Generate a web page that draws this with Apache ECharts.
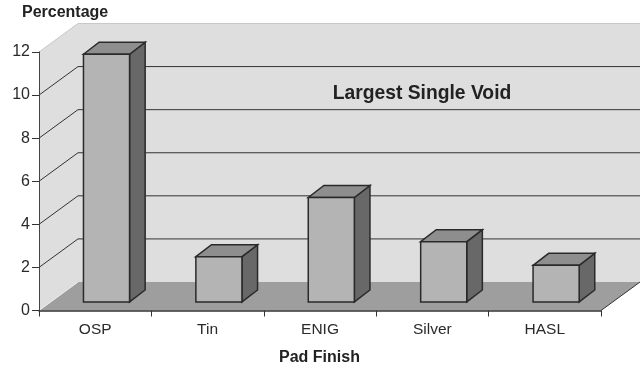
<!DOCTYPE html>
<html><head><meta charset="utf-8">
<style>html,body{margin:0;padding:0;background:#fff}#c{width:642px;height:366px}</style>
<script src="https://cdn.jsdelivr.net/npm/echarts@6/dist/echarts.min.js"></script>
</head><body><div id="c"></div>
<script>
const categories = ['OSP','Tin','ENIG','Silver','HASL'];
const values = [11.5,2.1,4.85,2.8,1.7];
const wallTicks = [2,4,6,8,10];
const yMax = 12, yStep = 2;
const DX = 39, DY = 28.5, FONT = '"Liberation Sans", Arial, sans-serif';
const chart = echarts.init(document.getElementById('c'), null, {renderer:'canvas'});
chart.setOption({
  animation:false,
  backgroundColor:'#fff',
  title:[
    {text:'Largest Single Void',left:422,top:84,padding:0,textAlign:'center',textStyle:{fontFamily:FONT,fontSize:19.3,fontWeight:'bold',color:'#222'}},
    {text:'Percentage',left:22,top:5,padding:0,textStyle:{fontFamily:FONT,fontSize:16,fontWeight:'bold',color:'#222'}},
    {text:'Pad Finish',left:319.5,top:350,padding:0,textAlign:'center',textStyle:{fontFamily:FONT,fontSize:16,fontWeight:'bold',color:'#222'}}
  ],
  grid:{left:39,right:41,top:52,bottom:55.5},
  xAxis:{type:'category',data:categories,z:5,
    axisLine:{lineStyle:{color:'#333',width:1.5}},
    axisTick:{show:true,length:6,lineStyle:{color:'#333',width:1}},
    axisLabel:{fontFamily:FONT,fontSize:15.5,color:'#2a2a2a',margin:11},splitLine:{show:false}},
  yAxis:{type:'value',min:0,max:yMax,interval:yStep,z:5,
    axisLine:{show:true,lineStyle:{color:'#444',width:1}},
    axisTick:{show:true,length:7,lineStyle:{color:'#333',width:1}},
    axisLabel:{fontFamily:FONT,fontSize:16,color:'#2a2a2a',margin:9,padding:[2,0,0,0]},splitLine:{show:false}},
  series:[
    {type:'custom',silent:true,z:1,data:[[0]],clip:false,
     renderItem(p){
       const c=p.coordSys,x0=c.x,x1=c.x+c.width,t=c.y,b=c.y+c.height;
       return {type:'group',children:[
         {type:'polygon',shape:{points:[[x0,t],[x0+DX,t-DY],[x1+DX,t-DY],[x1+DX,b-DY],[x0+DX,b-DY],[x0,b]]},style:{fill:'#dedede'}},
         {type:'polyline',shape:{points:[[x0,t],[x0+DX,t-DY],[x1+DX,t-DY]]},style:{fill:'none',stroke:'#c8c8c8',lineWidth:1}},
         {type:'polygon',shape:{points:[[x0,b],[x0+DX,b-DY],[x1+DX,b-DY],[x1,b]]},style:{fill:'#9e9e9e'}},
         {type:'line',shape:{x1:x1,y1:b,x2:x1+DX,y2:b-DY},style:{stroke:'#333',lineWidth:1}},
         {type:'line',shape:{x1:x0,y1:b,x2:x0+DX,y2:b-DY},style:{stroke:'#eee',lineWidth:1}}
       ]};
     }},
    {type:'custom',silent:true,z:2,clip:false,data:wallTicks.map(v=>[0,v]),
     renderItem(p,api){
       const c=p.coordSys,y=api.coord([0,api.value(1)])[1],x0=c.x,x1=c.x+c.width;
       return {type:'polyline',shape:{points:[[x0,y],[x0+DX,y-DY],[x1+DX,y-DY]]},style:{fill:'none',stroke:'#333',lineWidth:1}};
     }},
    {type:'custom',z:3,clip:false,data:values.map((v,i)=>[i,v]),
     renderItem(p,api){
       const i=api.value(0),v=api.value(1),cw=api.size([1,0])[0];
       const top=api.coord([i,v]),base=api.coord([i,0]);
       const w=cw*0.41,sx=DX*0.29,sy=DY*0.3,ex=DX*0.4,ey=DY*0.42;
       const l=top[0]-w/2+sx,r=l+w,ty=top[1]-sy,by=base[1]-sy;
       const st=f=>({fill:f,stroke:'#2a2a2a',lineWidth:1.5,lineJoin:'miter'});
       return {type:'group',children:[
         {type:'polygon',shape:{points:[[r,ty],[r+ex,ty-ey],[r+ex,by-ey],[r,by]]},style:st('#686868')},
         {type:'polygon',shape:{points:[[l,ty],[l+ex,ty-ey],[r+ex,ty-ey],[r,ty]]},style:st('#8e8e8e')},
         {type:'rect',shape:{x:l,y:ty,width:w,height:by-ty},style:st('#b4b4b4')}
       ]};
     }}
  ]
});
</script></body></html>
